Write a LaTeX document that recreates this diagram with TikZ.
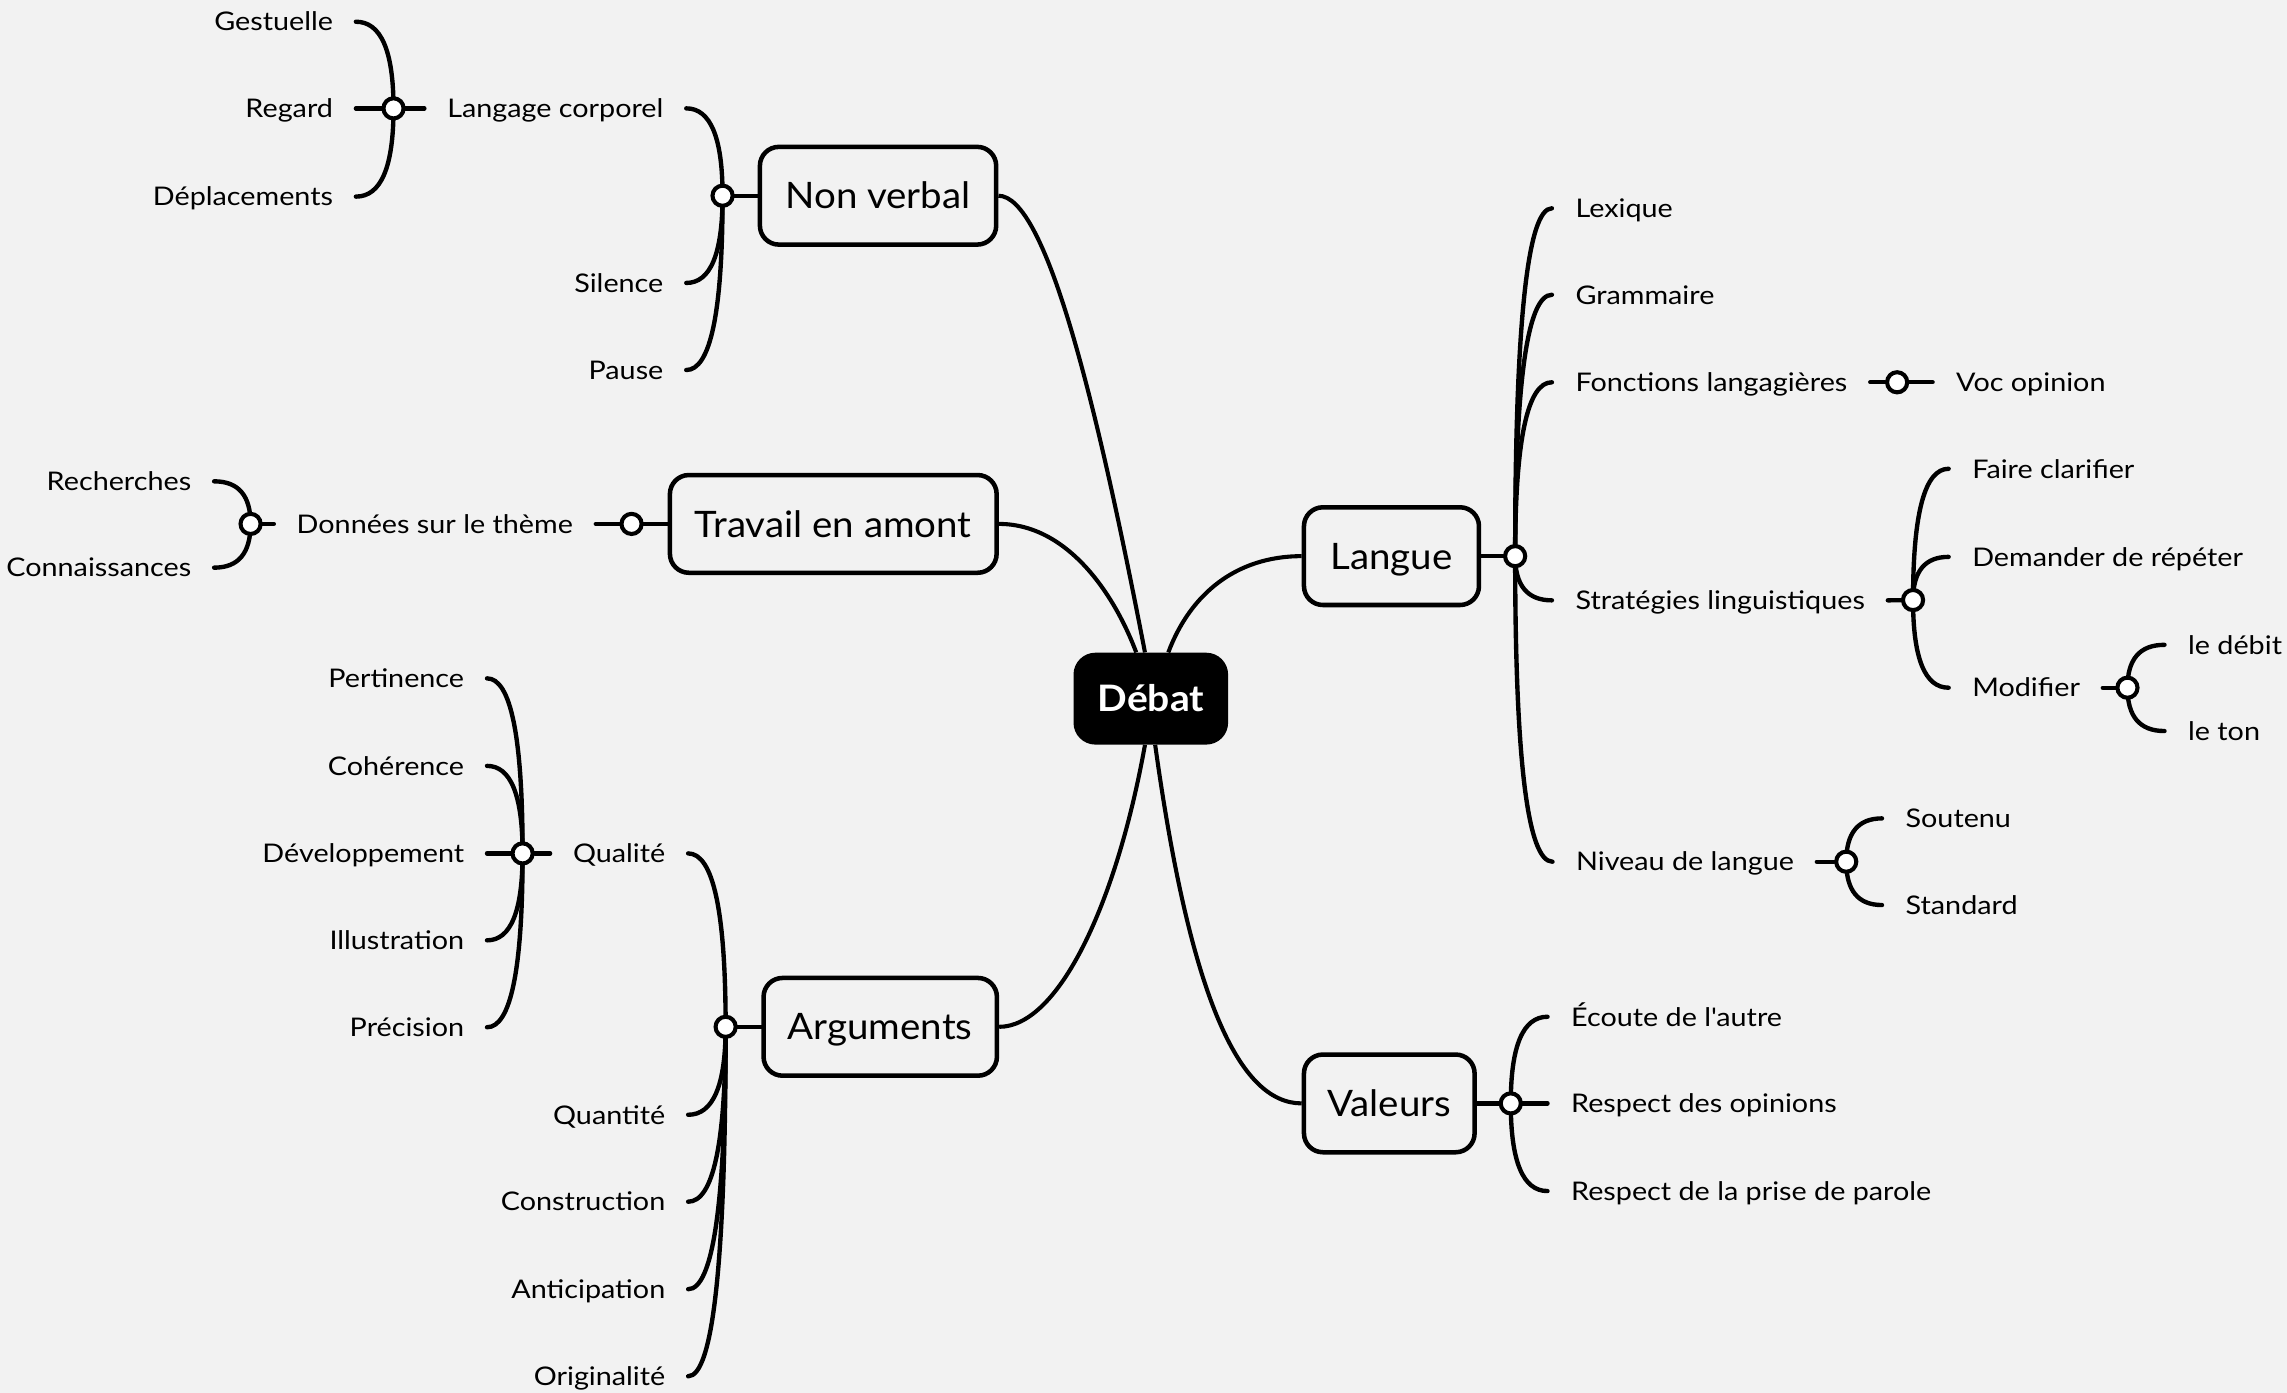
\documentclass[tikz,border=0pt]{standalone}
\usepackage{fontspec}
\setmainfont[FakeStretch=1.12]{Lato}
\newfontfamily\topicfont[FakeStretch=1.055]{Lato}
\newfontfamily\rootfont[FakeStretch=1.07]{Lato}
\usetikzlibrary{calc}
\definecolor{bgc}{HTML}{F2F2F2}
\pgfdeclarelayer{back}
\pgfsetlayers{back,main}
\tikzset{
  lbl/.style={inner sep=0pt, font=\fontsize{17.6}{20}\selectfont, text height=12.7pt, text depth=0pt},
  lblL/.style={lbl, anchor=east},
  lblR/.style={lbl, anchor=west},
  mainbox/.style={draw, line width=3.1pt, rounded corners=13pt, fill=bgc, inner sep=0pt,
    minimum height=67pt, font=\topicfont\fontsize{25}{30}\selectfont, text height=18pt, text depth=0pt},
  rootbox/.style={fill=black, rounded corners=15pt, text=white, inner sep=0pt,
    font=\rootfont\fontsize{25}{30}\selectfont\bfseries, minimum width=106pt, minimum height=63pt,
    text height=18pt, text depth=0pt},
  knob/.style={circle, draw, line width=2.8pt, fill=white, minimum size=13.8pt, inner sep=0pt},
  kline/.style={line width=3pt, line cap=round},
  mline/.style={line width=2.8pt},
}
\newcommand{\kc}[2]{\draw[kline] let \p1=(#1.center), \p2=(#2) in
  (\p1) .. controls (\x1,{\y1+0.667*(\y2-\y1)}) and ({\x2+0.667*(\x1-\x2)},\y2) .. (\p2);}
\newcommand{\kl}[2]{\kc{#1}{[xshift=15.5pt]#2.east}}
\newcommand{\kr}[2]{\kc{#1}{[xshift=-16pt]#2.west}}
\begin{document}
\begin{tikzpicture}[x=1pt,y=-1pt]
\useasboundingbox (0,0) rectangle (1568,955.06);
\begin{pgfonlayer}{back}
\fill[bgc] (0,0) rectangle (1568,955.06);
\end{pgfonlayer}

% root and main topics
\node[rootbox] (root) at (789,479) {Débat};
\node[mainbox, minimum width=162pt] (nv) at (602,134.2) {Non verbal};
\node[mainbox, minimum width=224pt] (tr) at (571.3,359.2) {Travail en amont};
\node[mainbox, minimum width=160pt] (arg) at (603.5,704) {Arguments};
\node[mainbox, minimum width=120pt] (lg) at (954,381.3) {Langue};
\node[mainbox, minimum width=117pt] (val) at (952.5,756.5) {Valeurs};

% knobs
\node[knob] (clc) at (269.8,74.3) {};
\node[knob] (cnv) at (495.4,134.2) {};
\node[knob] (cdon) at (171.8,359.2) {};
\node[knob] (ctr) at (433,359.2) {};
\node[knob] (cq) at (358.3,585.1) {};
\node[knob] (carg) at (497.5,704) {};
\node[knob] (clg) at (1038.8,381.3) {};
\node[knob] (cfonc) at (1300.7,262.1) {};
\node[knob] (cstrat) at (1311.6,411.4) {};
\node[knob] (cmod) at (1458.6,471.5) {};
\node[knob] (cniv) at (1265.8,590.8) {};
\node[knob] (cval) at (1035.8,756.5) {};

% left labels
\node[lblL] (gest) at (228.5,14.9) {Gestuelle};
\node[lblL] (reg) at (228.5,74.3) {Regard};
\node[lblL] (dep) at (228.5,134.8) {Déplacements};
\node[lblL] (lc) at (455,74.3) {Langage corporel};
\node[lblL] (sil) at (455,194) {Silence};
\node[lblL] (pau) at (455,253.7) {Pause};
\node[lblL] (rech) at (131.3,330) {Recherches};
\node[lblL] (conn) at (131.3,389.2) {Connaissances};
\node[lblL] (don) at (393,359.2) {Données sur le thème};
\node[lblL] (pert) at (318.4,465.1) {Pertinence};
\node[lblL] (coh) at (318.4,525.1) {Cohérence};
\node[lblL] (dev) at (318.4,585.1) {Développement};
\node[lblL] (ill) at (318.4,644.7) {Illustration};
\node[lblL] (prec) at (318.4,704.3) {Précision};
\node[lblL] (qual) at (456.3,585.1) {Qualité};
\node[lblL] (quan) at (456.3,764.3) {Quantité};
\node[lblL] (cons) at (456.3,823.9) {Construction};
\node[lblL] (anti) at (456.3,883.9) {Anticipation};
\node[lblL] (orig) at (456.3,943.6) {Originalité};

% right labels
\node[lblR] (lex) at (1080,142.8) {Lexique};
\node[lblR] (gram) at (1080,202.1) {Grammaire};
\node[lblR] (fonc) at (1080,262.1) {Fonctions langagières};
\node[lblR] (voc) at (1341,262.1) {Voc opinion};
\node[lblR] (strat) at (1080,411.6) {Stratégies linguistiques};
\node[lblR] (faire) at (1352,321.4) {Faire clarifier};
\node[lblR] (dem) at (1352,381.8) {Demander de répéter};
\node[lblR] (mod) at (1352,471.5) {Modifier};
\node[lblR] (debit) at (1500,442.1) {le débit};
\node[lblR] (ton) at (1500,501.2) {le ton};
\node[lblR] (niv) at (1080.4,590.8) {Niveau de langue};
\node[lblR] (sout) at (1306.3,561.1) {Soutenu};
\node[lblR] (stand) at (1306.3,620.5) {Standard};
\node[lblR] (ecoute) at (1077,697.1) {Écoute de l\textquotesingle autre};
\node[lblR] (resop) at (1077,756.5) {Respect des opinions};
\node[lblR] (respa) at (1077,816.6) {Respect de la prise de parole};

\begin{pgfonlayer}{back}
% main connectors
\draw[mline] (nv.east) .. controls +(32,0) and +(-34,-176) .. ([xshift=-4pt]root.north);
\draw[mline] (tr.east) .. controls +(47,0) and +(-15,-40) .. ([xshift=-10pt]root.north);
\draw[mline] (arg.east) .. controls +(40,0) and +(-20,111) .. ([xshift=-4pt]root.south);
\draw[mline] (lg.west) .. controls +(-45,0) and +(15,-40) .. ([xshift=12pt]root.north);
\draw[mline] (val.west) .. controls +(-43,0) and +(24,173) .. ([xshift=3pt]root.south);

% stubs from topics to knobs
\draw[kline] (nv.west) -- (cnv);
\draw[kline] (tr.west) -- (ctr);
\draw[kline] (arg.west) -- (carg);
\draw[kline] (lg.east) -- (clg);
\draw[kline] (val.east) -- (cval);
\draw[kline] ([xshift=-15.5pt]lc.west) -- (clc);
\draw[kline] ([xshift=-15.5pt]don.west) -- (cdon);
\draw[kline] ([xshift=-15.5pt]qual.west) -- (cq);
\draw[kline] ([xshift=15.5pt]fonc.east) -- (cfonc);
\draw[kline] ([xshift=15.5pt]strat.east) -- (cstrat);
\draw[kline] ([xshift=15.5pt]mod.east) -- (cmod);
\draw[kline] ([xshift=15.5pt]niv.east) -- (cniv);

% branches
\kl{cnv}{lc} \kl{cnv}{sil} \kl{cnv}{pau}
\kl{clc}{gest} \kl{clc}{reg} \kl{clc}{dep}
\kl{ctr}{don}
\kl{cdon}{rech} \kl{cdon}{conn}
\kl{carg}{qual} \kl{carg}{quan} \kl{carg}{cons} \kl{carg}{anti} \kl{carg}{orig}
\kl{cq}{pert} \kl{cq}{coh} \kl{cq}{dev} \kl{cq}{ill} \kl{cq}{prec}
\kr{clg}{lex} \kr{clg}{gram} \kr{clg}{fonc} \kr{clg}{strat} \kr{clg}{niv}
\kr{cfonc}{voc}
\kr{cstrat}{faire} \kr{cstrat}{dem} \kr{cstrat}{mod}
\kr{cmod}{debit} \kr{cmod}{ton}
\kr{cniv}{sout} \kr{cniv}{stand}
\kr{cval}{ecoute} \kr{cval}{resop} \kr{cval}{respa}
\end{pgfonlayer}
\end{tikzpicture}
\end{document}
